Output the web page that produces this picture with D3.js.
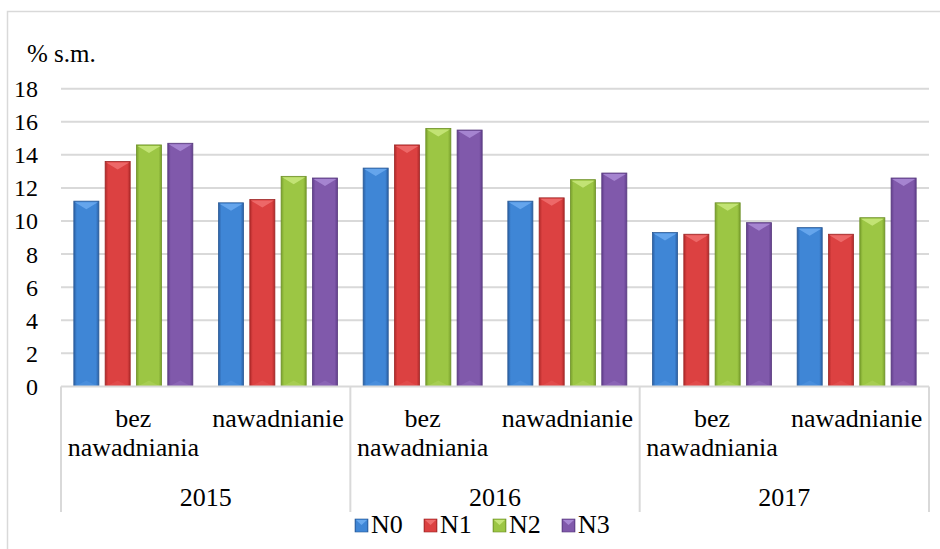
<!DOCTYPE html>
<html>
<head>
<meta charset="utf-8">
<script src="https://cdn.jsdelivr.net/npm/d3@7"></script>
<style>
  body { margin: 0; background: #fff; }
  svg text { font-family: "Liberation Serif", "Times New Roman", serif; fill: #000; }
</style>
</head>
<body>
<svg id="chart" width="940" height="549"></svg>
<script>
// data
var years = ["2015", "2016", "2017"];
var treatments = ["bez nawadniania", "nawadnianie"];
var seriesNames = ["N0", "N1", "N2", "N3"];
var N0 = [11.2, 11.1, 13.2, 11.2, 9.3, 9.6];
var N1 = [13.6, 11.3, 14.6, 11.4, 9.2, 9.2];
var N2 = [14.6, 12.7, 15.6, 12.5, 11.1, 10.2];
var N3 = [14.7, 12.6, 15.5, 12.9, 9.9, 12.6];
var yTicks = [0, 2, 4, 6, 8, 10, 12, 14, 16, 18];
var yTitle = "% s.m.";

function drawChart(){
  var seriesValues = [N0, N1, N2, N3];
  var colors = [
    {edge: "#2b5fa3", mid: "#3f86d6", tip: "#69a9ee", line: "#2a5a96"},
    {edge: "#b02a2a", mid: "#dc4141", tip: "#ee6d6d", line: "#9c2727"},
    {edge: "#79a02c", mid: "#9cc644", tip: "#c6e57a", line: "#6e9128"},
    {edge: "#623f8c", mid: "#8059ab", tip: "#a888d4", line: "#573a7d"}
  ];

  // categories (year x treatment)
  var cats = [];
  years.forEach(function(yr){
    treatments.forEach(function(t){ cats.push(yr + "|" + t); });
  });

  var svg = d3.select("#chart");
  var plotL = 61, plotR = 929, plotT = 88.7, plotB = 386.4;

  var x0 = d3.scaleBand().domain(cats).range([plotL, plotR]).padding(0);
  var yearScale = d3.scaleBand().domain(years).range([plotL, plotR]).padding(0);
  var y = d3.scaleLinear().domain([0, 18]).range([plotB, plotT]);

  var clusterW = 119;
  var x1 = d3.scaleBand().domain(seriesNames).range([0, clusterW]).paddingInner(0.2).paddingOuter(0);

  // gradients
  var defs = svg.append("defs");
  colors.forEach(function(c, i){
    var g = defs.append("linearGradient").attr("id", "grad" + i)
      .attr("x1", "0").attr("x2", "1").attr("y1", "0").attr("y2", "0");
    g.append("stop").attr("offset", "0").attr("stop-color", c.edge);
    g.append("stop").attr("offset", "0.12").attr("stop-color", c.mid);
    g.append("stop").attr("offset", "0.88").attr("stop-color", c.mid);
    g.append("stop").attr("offset", "1").attr("stop-color", c.edge);
  });

  // outer frame
  svg.append("path")
    .attr("d", "M7.5,560 L7.5,11.5 L945,11.5")
    .attr("fill", "none").attr("stroke", "#d9d9d9").attr("stroke-width", 1.5);

  // gridlines
  svg.append("g").selectAll("line").data(yTicks.filter(function(d){ return d > 0; }))
    .enter().append("line")
    .attr("x1", plotL).attr("x2", plotR)
    .attr("y1", function(d){ return y(d); }).attr("y2", function(d){ return y(d); })
    .attr("stroke", "#d9d9d9").attr("stroke-width", 2);

  // y axis labels
  var yAxis = d3.axisLeft(y).tickValues(yTicks).tickSize(0).tickPadding(0);
  var yg = svg.append("g").attr("transform", "translate(38,0)").call(yAxis);
  yg.select(".domain").remove();
  yg.attr("font-family", null).attr("font-size", null);
  yg.selectAll("text")
    .style("font-size", "24px")
    .attr("fill", "#000")
    .attr("dy", "0.33em");

  svg.append("text").attr("x", 27).attr("y", 62).style("font-size", "25px").text(yTitle);

  // bars
  var barData = [];
  seriesValues.forEach(function(vals, si){
    vals.forEach(function(v, ci){
      barData.push({cat: cats[ci], s: si, v: v});
    });
  });

  var bars = svg.append("g").selectAll("g.bar").data(barData).enter().append("g");
  bars.each(function(d){
    var g = d3.select(this);
    var bx = x0(d.cat) + (x0.bandwidth() - clusterW) / 2 + x1(seriesNames[d.s]);
    var bw = x1.bandwidth();
    var by = y(d.v);
    var bh = y(0) - by;
    var c = colors[d.s];
    g.append("rect").attr("x", bx).attr("y", by).attr("width", bw).attr("height", bh)
      .attr("fill", "url(#grad" + d.s + ")").attr("stroke", c.line).attr("stroke-width", 0.8);
    var th = 8;
    g.append("path")
      .attr("d", "M" + (bx + 1) + "," + (by + 1) + "L" + (bx + bw - 1) + "," + (by + 1) +
        "L" + (bx + bw / 2) + "," + (by + th) + "Z")
      .attr("fill", c.tip).attr("opacity", 0.9);
    g.append("path")
      .attr("d", "M" + (bx + 3) + "," + (by + bh - 1) + "L" + (bx + bw - 3) + "," + (by + bh - 1) +
        "L" + (bx + bw / 2) + "," + (by + bh - 6) + "Z")
      .attr("fill", c.tip).attr("opacity", 0.25);
  });

  // category axis
  svg.append("line").attr("x1", plotL).attr("x2", plotR).attr("y1", plotB).attr("y2", plotB)
    .attr("stroke", "#d9d9d9").attr("stroke-width", 2);
  var seps = years.map(function(yr){ return yearScale(yr); }).concat([plotR]);
  svg.append("g").selectAll("line").data(seps).enter().append("line")
    .attr("x1", function(d){ return d; }).attr("x2", function(d){ return d; })
    .attr("y1", plotB).attr("y2", 512)
    .attr("stroke", "#d9d9d9").attr("stroke-width", 2);

  // treatment labels
  var catLabels = svg.append("g").selectAll("text").data(cats).enter().append("text")
    .attr("text-anchor", "middle")
    .style("font-size", "26px")
    .attr("x", function(d){ return x0(d) + x0.bandwidth() / 2; })
    .attr("y", 427);
  catLabels.each(function(d){
    var t = d.split("|")[1];
    var words = t.split(" ");
    var el = d3.select(this);
    words.forEach(function(w, i){
      el.append("tspan").attr("x", x0(d) + x0.bandwidth() / 2).attr("dy", i === 0 ? 0 : 29).text(w);
    });
  });

  // year labels
  svg.append("g").selectAll("text").data(years).enter().append("text")
    .attr("text-anchor", "middle").style("font-size", "26px")
    .attr("x", function(d){ return yearScale(d) + yearScale.bandwidth() / 2; })
    .attr("y", 506)
    .text(function(d){ return d; });

  // legend
  var legendX = d3.scalePoint().domain(seriesNames).range([355, 562]);
  var lg = svg.append("g").selectAll("g").data(seriesNames).enter().append("g")
    .attr("transform", function(d){ return "translate(" + legendX(d) + ",519)"; });
  lg.append("rect").attr("width", 13).attr("height", 13)
    .attr("fill", function(d, i){ return "url(#grad" + i + ")"; })
    .attr("stroke", function(d, i){ return colors[i].line; }).attr("stroke-width", 0.6);
  lg.append("path").attr("d", "M1,1L12,1L6.5,6Z")
    .attr("fill", function(d, i){ return colors[i].tip; });
  lg.append("text").attr("x", 16).attr("y", 14).style("font-size", "26px")
    .text(function(d){ return d; });
}

drawChart();
</script>
</body>
</html>
